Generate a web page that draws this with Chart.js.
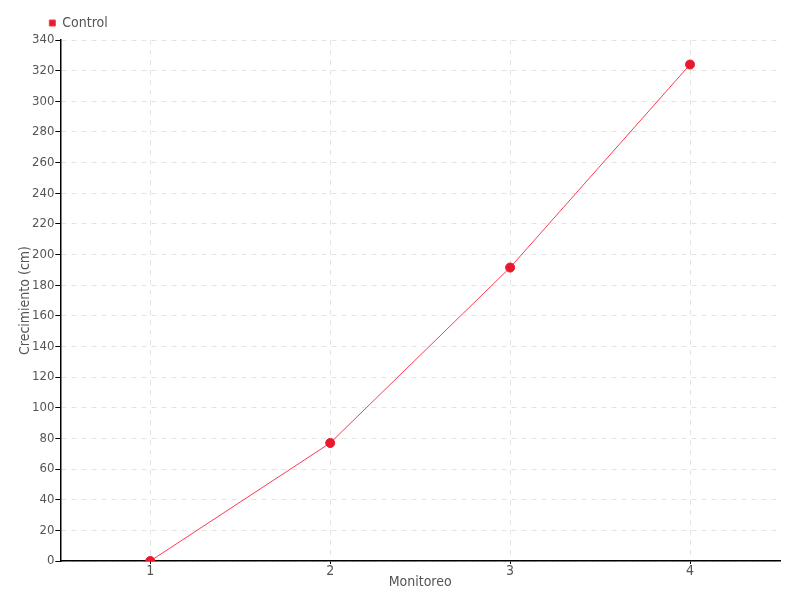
<!DOCTYPE html>
<html><head><meta charset="utf-8">
<script src="https://cdn.jsdelivr.net/npm/chart.js@4"></script>
<style>html,body{margin:0;padding:0;background:#fff}#w{width:800px;height:600px}</style>
</head><body><div id="w"><canvas id="c" width="800" height="600"></canvas></div>
<script>
const categories = ['1', '2', '3', '4'];
const controlValues = [0, 77, 191.5, 324];
const seriesName = 'Control';
const xTitle = 'Monitoreo';
const yTitle = 'Crecimiento (cm)';

const FONT = "'Liberation Sans Narrow', 'DejaVu Sans Condensed', 'Roboto Condensed', sans-serif";
const TXT = '#555555';
const GRID = '#e4e4e4';

new Chart(document.getElementById('c'), {
  type: 'line',
  data: {
    labels: categories,
    datasets: [{
      label: seriesName,
      data: controlValues,
      borderColor: '#ff3a55',
      backgroundColor: '#e8192c',
      pointBackgroundColor: '#e8192c',
      pointBorderColor: '#e8192c',
      borderWidth: 1,
      pointRadius: 4.5,
      tension: 0
    }]
  },
  options: {
    responsive: false,
    animation: false,
    layout: { padding: { left: 18, right: 20, top: 8, bottom: 0 } },
    plugins: {
      legend: {
        position: 'top', align: 'start',
        labels: { boxWidth: 6, boxHeight: 6, color: TXT, font: { family: FONT, size: 14 }, padding: 8 }
      },
      tooltip: { enabled: false }
    },
    scales: {
      x: {
        offset: true,
        grid: { offset: false, color: GRID, tickColor: '#000', drawTicks: true, tickLength: 3 },
        border: { color: '#000', width: 1.5, dash: [5, 5] },
        ticks: { color: TXT, font: { family: FONT, size: 14, lineHeight: 1.0 }, padding: 0 },
        title: { display: true, text: xTitle, color: TXT, font: { family: FONT, size: 14, lineHeight: 1.0 }, padding: { top: -3, bottom: 11 } }
      },
      y: {
        min: 0, max: 340,
        grid: { color: GRID, tickColor: '#000', tickLength: 5 },
        border: { color: '#000', width: 1.5, dash: [5, 5] },
        ticks: { stepSize: 20, color: TXT, font: { family: FONT, size: 13 }, padding: 1 },
        title: { display: true, text: yTitle, color: TXT, font: { family: FONT, size: 14, lineHeight: 1.0 }, padding: { top: 0, bottom: -1 } }
      }
    }
  },
  plugins: [{
    id: 'legendShift',
    afterLayout(chart) {
      const shift = chart.chartArea.left - 19 - chart.legend.left;
      chart.legend.left += shift;
      chart.legend.right += shift;
    }
  }]
});
</script></body></html>
